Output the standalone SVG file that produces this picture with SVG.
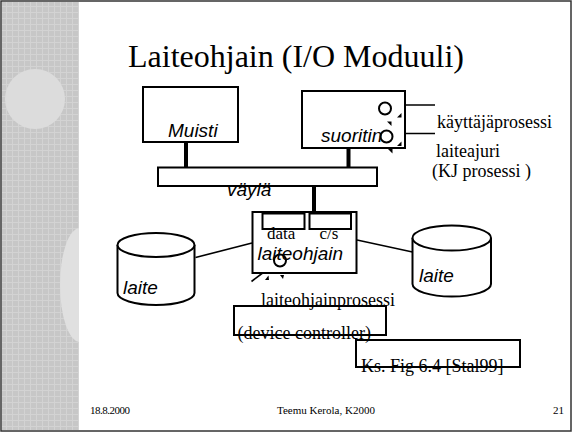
<svg xmlns="http://www.w3.org/2000/svg" width="572" height="432" viewBox="0 0 572 432">
  <defs>
    <pattern id="weave" width="6" height="6" patternUnits="userSpaceOnUse">
      <rect width="6" height="6" fill="#c7c7c7"/>
      <path d="M0 0.5H6M0.5 0V6" stroke="#d3d3d3" stroke-width="1"/>
    </pattern>
    <clipPath id="strip">
      <rect x="2" y="2" width="77" height="428"/>
    </clipPath>
  </defs>
  <style>
    .box { fill: #ffffff; stroke: #000000; stroke-width: 2; }
    .open { fill: none; stroke: #000000; stroke-width: 2; }
    .thin { fill: none; stroke: #000000; stroke-width: 1.6; }
    .bar { stroke: #000000; stroke-width: 4; }
    .tri { fill: #000000; }
    .sans { font-family: "Liberation Sans", Arial, sans-serif; font-style: italic; font-size: 19px; fill: #000000; }
    .serif { font-family: "Liberation Serif", "Times New Roman", serif; font-size: 18px; fill: #000000; }
    .reg { font-family: "Liberation Serif", "Times New Roman", serif; font-size: 17px; fill: #000000; }
    .foot { font-family: "Liberation Serif", "Times New Roman", serif; font-size: 11px; fill: #000000; }
  </style>

  <!-- slide background and decorative side strip -->
  <rect x="0" y="0" width="572" height="432" fill="#ffffff"/>
  <rect x="2" y="2" width="77" height="428" fill="url(#weave)"/>
  <g clip-path="url(#strip)">
    <circle cx="35" cy="99" r="30" fill="#dcdcdc"/>
    <ellipse cx="80" cy="285" rx="20" ry="57" fill="#e0e0e0"/>
  </g>
  <rect x="1" y="1" width="570" height="430" fill="none" stroke="#333333" stroke-width="1.5"/>

  <!-- title -->
  <text x="128" y="67" font-family="'Liberation Serif', 'Times New Roman', serif" font-size="32" fill="#000000">Laiteohjain (I/O Moduuli)</text>

  <!-- connectors -->
  <g id="connectors">
    <line class="bar" x1="186" y1="142" x2="186" y2="168"/>
    <line class="bar" x1="348.5" y1="148" x2="348.5" y2="168"/>
    <line class="bar" x1="314" y1="186" x2="314" y2="212"/>
    <line class="thin" x1="195.5" y1="257.5" x2="252" y2="243"/>
    <line class="thin" x1="357" y1="240" x2="412.5" y2="252"/>
    <line class="thin" x1="397" y1="105" x2="435" y2="105"/>
    <line class="thin" x1="397" y1="133.5" x2="435" y2="133.5"/>
    <line class="thin" x1="251.5" y1="281.5" x2="276" y2="263"/>
  </g>

  <!-- memory -->
  <g id="muisti">
    <rect class="box" x="143" y="87" width="95" height="55"/>
    <text class="sans" x="168" y="137">Muisti</text>
  </g>

  <!-- processor with its two processes -->
  <g id="suoritin">
    <rect class="box" x="302" y="91" width="103" height="57"/>
    <text class="sans" x="321" y="141.5">suoritin</text>
    <circle class="open" cx="385" cy="108.5" r="6"/>
    <circle class="open" cx="386.5" cy="136.5" r="6"/>
    <polygon class="tri" points="397,117.5 401.5,113 401.5,117.5"/>
    <polygon class="tri" points="387,121.5 391.5,121.5 391.5,126"/>
    <polygon class="tri" points="397,146 401.5,141.5 401.5,146"/>
    <polygon class="tri" points="388,149 392.5,149 392.5,153.5"/>
  </g>

  <!-- system bus -->
  <g id="vayla">
    <rect class="box" x="158" y="167.5" width="219" height="18.5"/>
    <text class="sans" x="227" y="196">väylä</text>
  </g>

  <!-- device controller -->
  <g id="laiteohjain">
    <rect class="box" x="252.5" y="212" width="104" height="61"/>
    <rect class="box" x="262.5" y="213.5" width="42" height="15.5"/>
    <rect class="box" x="309.5" y="213.5" width="41.5" height="15.5"/>
    <text class="reg" x="267" y="239">data</text>
    <text class="reg" x="319.5" y="239">c/s</text>
    <text class="sans" x="257.5" y="260" font-size="18.5">laiteohjain</text>
    <circle class="open" cx="280" cy="260.5" r="6"/>
    <polygon class="tri" points="265,280 268.5,275.5 269,280"/>
    <polygon class="tri" points="280,275 284,275 283,279"/>
  </g>

  <!-- devices -->
  <g id="laite-vasen">
    <path class="box" d="M117.5 245 V293 A38.5 12 0 0 0 194.5 293 V245"/>
    <ellipse class="box" cx="156" cy="245" rx="38.5" ry="12"/>
    <text class="sans" x="123" y="294">laite</text>
  </g>
  <g id="laite-oikea">
    <path class="box" d="M412.5 238 V284 A39.25 12.5 0 0 0 491 284 V238"/>
    <ellipse class="box" cx="451.75" cy="238" rx="39.25" ry="12.5"/>
    <text class="sans" x="419" y="282">laite</text>
  </g>

  <!-- process labels -->
  <g id="selitteet">
    <text class="serif" x="437" y="128">käyttäjäprosessi</text>
    <text class="serif" x="436" y="157">laiteajuri</text>
    <text class="serif" x="432" y="177">(KJ prosessi )</text>
    <text class="serif" x="261" y="306">laiteohjainprosessi</text>
    <rect class="open" x="234" y="306" width="152" height="29"/>
    <text class="serif" x="237.5" y="339">(device controller)</text>
    <rect class="open" x="356" y="340" width="164" height="27"/>
    <text class="serif" x="361" y="372">Ks. Fig 6.4 [Stal99]</text>
  </g>

  <!-- footer -->
  <text class="foot" x="90" y="414" textLength="40">18.8.2000</text>
  <text class="foot" x="277" y="414">Teemu Kerola, K2000</text>
  <text class="foot" x="553" y="414">21</text>
</svg>
